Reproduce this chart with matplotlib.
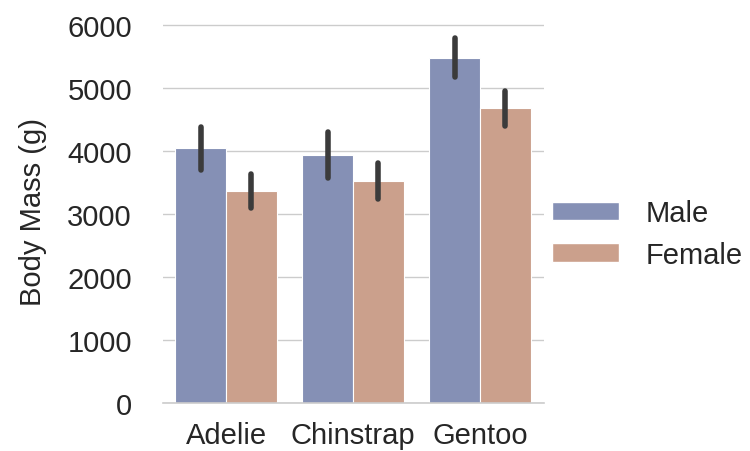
import numpy as np
import matplotlib
matplotlib.use("Agg")
import matplotlib.pyplot as plt
from matplotlib.patches import Patch

species = ["Adelie", "Chinstrap", "Gentoo"]
sexes = ["Male", "Female"]
# mean body mass and standard deviation
mass_mean = {"Male": [4043, 3939, 5485], "Female": [3369, 3527, 4680]}
mass_sd = {"Male": [347, 362, 313], "Female": [269, 285, 282]}
colors = {"Male": "#8590b5", "Female": "#cba08c"}

plt.rcParams["font.family"] = ["Liberation Sans", "DejaVu Sans"]
fig = plt.figure(figsize=(7.5, 4.52), dpi=100)
ax = fig.add_axes([0.2167, 0.106, 0.508, 0.850])

x = np.arange(len(species))
w = 0.4
for j, sex in enumerate(sexes):
    pos = x - w / 2 + j * w
    m = np.array(mass_mean[sex])
    s = np.array(mass_sd[sex])
    ax.bar(pos, m, width=w, color=colors[sex], edgecolor="white", linewidth=0.8, zorder=2)
    ax.vlines(pos, m - s, m + s, color="#3b3b3b", linewidth=4, capstyle="round", zorder=3)

fs = 21
ax.set_xlim(-0.5, 2.5)
ax.set_ylim(0, 6100)
ax.set_yticks(range(0, 6001, 1000))
ax.set_xticks(x)
ax.set_xticklabels(species)
ax.tick_params(length=0, labelsize=fs, colors="#262626", pad=13)
ax.tick_params(axis="y", pad=22)
ax.set_ylabel("Body Mass (g)", fontsize=fs, color="#262626", labelpad=15)
ax.yaxis.grid(True, color="#cccccc", linewidth=1, zorder=0)
ax.set_axisbelow(True)
for side in ["left", "right", "top"]:
    ax.spines[side].set_visible(False)
ax.spines["bottom"].set_color("#cccccc")
ax.spines["bottom"].set_linewidth(1.2)

handles = [Patch(facecolor=colors[s], edgecolor="white", label=s) for s in sexes]
fig.legend(handles=handles, loc="center left", bbox_to_anchor=(0.701, 0.48),
           frameon=False, fontsize=fs, handlelength=2.3, handleheight=0.6,
           handletextpad=0.9, labelspacing=0.45, labelcolor="#262626")

fig.savefig("out.png", dpi=100)
